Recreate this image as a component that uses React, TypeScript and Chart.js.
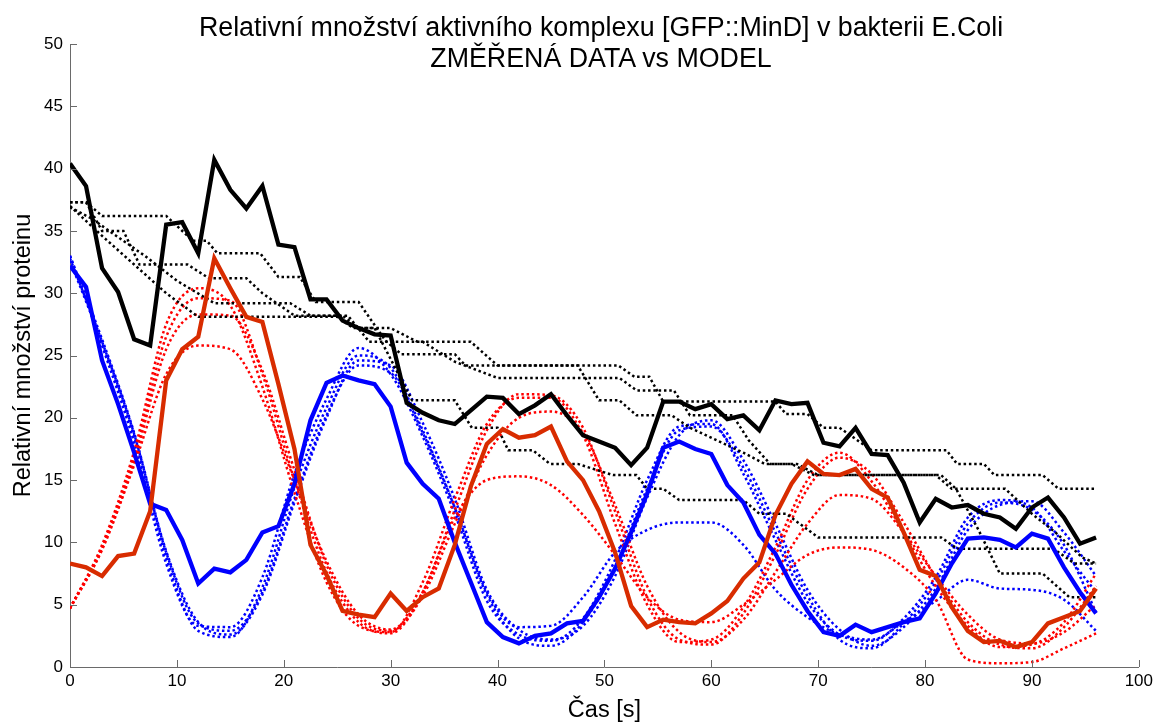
import React, { useEffect, useRef } from "react";
import { Chart, registerables } from "chart.js";

Chart.register(...registerables);

// ---------- measured data (sampled every 1.5 s) ----------
const timeMeasured = [
  0, 1.5, 3, 4.5, 6, 7.5, 9, 10.5, 12, 13.5, 15, 16.5, 18, 19.5, 21, 22.5, 24, 25.5, 27, 28.5,
  30, 31.5, 33, 34.5, 36, 37.5, 39, 40.5, 42, 43.5, 45, 46.5, 48, 49.5, 51, 52.5, 54, 55.5, 57, 58.5,
  60, 61.5, 63, 64.5, 66, 67.5, 69, 70.5, 72, 73.5, 75, 76.5, 78, 79.5, 81, 82.5, 84, 85.5, 87, 88.5,
  90, 91.5, 93, 94.5, 96,
];

const blackMeasured = [
  40.4, 38.6, 32.0, 30.1, 26.3, 25.8, 35.5, 35.7, 33.2, 40.7, 38.3, 36.8, 38.6, 33.9, 33.7, 29.5, 29.5, 27.8, 27.2, 26.7,
  26.6, 21.2, 20.4, 19.8, 19.5, 20.6, 21.7, 21.6, 20.3, 21.0, 21.9, 20.2, 18.6, 18.1, 17.6, 16.2, 17.6, 21.3, 21.3, 20.7,
  21.1, 19.9, 20.2, 19.0, 21.4, 21.1, 21.2, 18.0, 17.7, 19.2, 17.1, 17.0, 14.8, 11.6, 13.5, 12.8, 13.0, 12.3, 12.0, 11.1,
  12.8, 13.6, 12.0, 9.9, 10.4,
];

const blueMeasured = [
  32.2, 30.5, 24.6, 21.1, 17.2, 13.1, 12.6, 10.2, 6.7, 7.9, 7.6, 8.6, 10.8, 11.3, 14.7, 19.8, 22.8, 23.4, 23.0, 22.7,
  20.9, 16.4, 14.7, 13.5, 10.0, 6.8, 3.6, 2.4, 1.9, 2.5, 2.7, 3.5, 3.7, 5.6, 7.9, 10.8, 13.9, 17.6, 18.1, 17.5,
  17.1, 14.6, 13.2, 10.6, 9.1, 6.6, 4.5, 2.8, 2.5, 3.4, 2.8, 3.2, 3.6, 3.9, 5.9, 8.3, 10.3, 10.4, 10.2, 9.6,
  10.7, 10.3, 8.0, 6.0, 4.3,
];

const redMeasured = [
  8.3, 8.0, 7.3, 8.9, 9.1, 12.5, 23.0, 25.5, 26.5, 32.8, 30.4, 28.1, 27.7, 22.7, 17.5, 9.8, 7.4, 4.5, 4.2, 4.0,
  5.9, 4.5, 5.6, 6.3, 9.8, 14.5, 17.9, 19.1, 18.4, 18.6, 19.3, 16.5, 15.0, 12.5, 9.2, 4.9, 3.2, 3.8, 3.6, 3.5,
  4.3, 5.3, 7.1, 8.4, 12.2, 14.7, 16.5, 15.5, 15.4, 15.9, 14.3, 13.6, 10.8, 7.8, 7.3, 4.8, 2.9, 2.0, 2.1, 1.6,
  2.0, 3.5, 4.0, 4.5, 6.3,
];

// ---------- model curves (sampled every 3 s) ----------
const timeModel = [
  0, 3, 6, 9, 12, 15, 18, 21, 24, 27, 30, 33, 36, 39, 42, 45, 48, 51, 54, 57, 60, 63, 66, 69, 72, 75, 78, 81, 84, 87, 90, 93, 96,
];

const blueModel1 = [33.0, 25.8, 18.0, 8.3, 3.3, 3.2, 7.2, 15.5, 21.5, 25.6, 23.5, 18.5, 12.3, 5.3, 2.6, 2.1, 3.9, 8.6, 15.0, 19.3, 19.5, 15.5, 10.2, 5.2, 2.6, 2.1, 3.9, 7.2, 12.0, 13.4, 12.8, 9.3, 6.0];
const blueModel2 = [33.0, 26.3, 18.8, 9.3, 3.6, 2.6, 5.8, 13.2, 20.0, 24.6, 24.2, 19.6, 13.5, 6.2, 3.0, 2.2, 3.3, 7.3, 13.6, 18.6, 19.8, 16.6, 11.5, 6.2, 3.0, 1.7, 3.2, 6.3, 11.0, 13.0, 13.3, 10.8, 7.3];
const blueModel3 = [32.6, 26.0, 18.5, 8.8, 2.9, 2.4, 6.4, 14.4, 20.8, 25.0, 24.0, 19.0, 12.8, 5.8, 2.3, 1.7, 3.6, 8.0, 14.3, 19.0, 19.3, 16.0, 10.8, 5.7, 2.2, 1.5, 3.5, 6.8, 11.5, 13.2, 12.6, 9.8, 4.4];
const blueModel4 = [32.8, 26.1, 18.7, 9.2, 3.5, 2.9, 6.0, 13.5, 20.2, 24.2, 23.6, 18.8, 12.8, 6.0, 3.2, 3.3, 5.6, 9.2, 11.0, 11.6, 11.6, 9.8, 6.2, 4.0, 2.6, 2.2, 3.6, 5.3, 7.0, 6.3, 6.2, 5.4, 2.9];

const redModel1 = [4.7, 9.8, 17.3, 27.5, 30.4, 29.0, 22.5, 14.0, 6.8, 3.3, 2.8, 6.8, 13.5, 19.5, 21.6, 21.6, 18.6, 11.5, 5.0, 2.0, 2.2, 4.8, 9.6, 15.0, 17.2, 14.9, 10.8, 6.5, 3.3, 1.6, 1.8, 3.6, 7.5];
const redModel2 = [4.7, 9.6, 16.8, 26.5, 29.6, 29.4, 23.5, 15.0, 7.6, 3.6, 2.7, 6.0, 12.6, 19.0, 21.9, 21.8, 19.2, 12.5, 5.6, 2.2, 1.8, 4.3, 9.0, 14.3, 16.8, 15.5, 11.6, 7.2, 3.6, 1.8, 1.5, 3.2, 6.5];
const redModel3 = [4.7, 9.5, 16.5, 25.5, 28.3, 28.2, 23.8, 15.8, 8.2, 3.9, 2.9, 5.7, 11.5, 17.0, 20.0, 20.5, 18.8, 13.0, 6.5, 2.8, 2.0, 3.8, 7.6, 11.5, 13.8, 13.5, 10.8, 7.3, 4.2, 2.2, 1.9, 2.8, 5.0];
const redModel4 = [4.7, 9.4, 16.2, 23.5, 25.8, 25.5, 21.5, 15.0, 8.5, 4.2, 3.0, 6.0, 12.0, 15.0, 15.3, 14.6, 12.2, 9.0, 5.6, 3.8, 3.6, 5.0, 7.0, 9.0, 9.6, 9.4, 8.0, 5.4, 0.6, 0.3, 0.4, 1.5, 2.7];

// black model curves: [time, value] break points of the staircases
const blackModelA = [[0, 37.3], [1.5, 37.3], [3, 36.2], [9, 36.2], [11.5, 34.2], [12.8, 34.2], [13.8, 33.2], [17.8, 33.2], [19.5, 31.3], [21.5, 31.3], [23, 29.3], [27, 29.3], [29.5, 26.2], [31, 25.1], [36, 25.1], [37, 24.2], [51.3, 24.2], [52.8, 23.3], [54.2, 23.3], [55.5, 21.3], [66, 21.3], [67, 20.3], [69, 20.3], [70.5, 19.2], [72, 19.2], [75, 17.4], [82, 17.4], [83, 16.3], [85.5, 16.3], [86.5, 15.4], [91, 15.4], [92.5, 14.3], [96, 14.3]];
const blackModelB = [[0, 37.3], [1.5, 37.3], [3, 35.0], [5, 35.0], [6.5, 32.3], [11, 32.3], [13, 31.2], [16.5, 31.2], [18, 30.0], [21, 28.2], [25.5, 28.2], [27, 27.2], [30, 27.2], [32.5, 26.1], [37.5, 26.1], [40, 24.2], [47.5, 24.2], [49.5, 21.4], [51.4, 21.4], [53, 20.2], [56.3, 20.2], [58, 19.2], [60.5, 18.2], [63, 17.2], [65, 16.3], [67.5, 16.3], [69.6, 15.4], [81, 15.4], [82.5, 14.3], [87.5, 14.3], [90, 12.3], [92.2, 10.8], [94.7, 8.8], [96, 8.3]];
const blackModelC = [[0, 37.0], [3, 34.6], [6, 32.3], [9, 30.0], [12, 28.1], [25, 28.1], [26.5, 27.2], [28.5, 27.2], [32, 21.4], [36, 21.4], [37.6, 19.2], [40, 19.2], [41, 17.4], [43.3, 17.4], [44.9, 16.3], [47.5, 16.3], [50.8, 15.4], [53, 15.4], [54, 14.3], [55.5, 14.3], [57, 13.4], [63, 13.4], [64.5, 12.3], [67, 12.3], [70, 10.4], [81.5, 10.4], [83, 9.5], [92, 9.5], [94, 8.3], [96, 8.3]];
const blackModelD = [[0, 36.9], [2, 36.0], [4.5, 34.5], [7, 33.0], [10, 31.0], [13.5, 29.2], [20.6, 29.2], [22.5, 28.2], [26, 28.2], [28, 26.1], [33, 26.1], [36, 24.5], [40, 23.2], [51.4, 23.2], [53, 22.2], [56.5, 22.2], [58, 20.2], [62, 20.2], [63.5, 18.2], [65.5, 16.3], [68, 16.3], [70, 15.4], [81.5, 15.4], [82.9, 14.3], [85, 11.0], [87, 7.5], [91, 7.5], [93.5, 5.6], [96, 5.6]];

const titleLines = ["Relativní množství aktivního komplexu [GFP::MinD] v bakterii E.Coli", "ZMĚŘENÁ DATA vs MODEL"];
const xAxisTitle = "Čas [s]";
const yAxisTitle = "Relativní množství proteinu";

const FONT = "'Liberation Sans', Arial, Helvetica, sans-serif";
const AXIS_GREY = "#6a6a6a";

const zip = (ts: number[], vs: number[]) => ts.map((t, i) => ({ x: t, y: vs[i] }));
const pairs = (p: number[][]) => p.map(([x, y]) => ({ x, y }));

const innerTicks = {
  id: "innerTicks",
  afterDraw(chart: any) {
    const { ctx, chartArea, scales } = chart;
    const xs = scales.x;
    const ys = scales.y;
    ctx.save();
    ctx.strokeStyle = AXIS_GREY;
    ctx.lineWidth = 1;
    xs.ticks.forEach((t: any) => {
      if (t.value === 0) return;
      const px = Math.round(xs.getPixelForValue(t.value)) + 0.5;
      ctx.beginPath();
      ctx.moveTo(px, chartArea.bottom);
      ctx.lineTo(px, chartArea.bottom - 7);
      ctx.stroke();
    });
    ys.ticks.forEach((t: any) => {
      if (t.value === 0) return;
      const py = Math.round(ys.getPixelForValue(t.value)) + 0.5;
      ctx.beginPath();
      ctx.moveTo(chartArea.left, py);
      ctx.lineTo(chartArea.left + 7, py);
      ctx.stroke();
    });
    ctx.restore();
  },
};

export default function App() {
  const canvasRef = useRef<HTMLCanvasElement | null>(null);

  useEffect(() => {
    const canvas = canvasRef.current;
    if (!canvas) return;

    const thick = (label: string, data: any[], color: string) => ({
      label,
      data,
      borderColor: color,
      backgroundColor: color,
      borderWidth: 4.3,
      pointRadius: 0,
      tension: 0,
      fill: false,
      borderJoinStyle: "miter" as const,
    });
    const dotted = (label: string, data: any[], color: string, smooth: boolean) => ({
      label,
      data,
      borderColor: color,
      backgroundColor: color,
      borderWidth: 2.5,
      borderDash: [2.5, 2.8],
      pointRadius: 0,
      tension: 0,
      cubicInterpolationMode: smooth ? ("monotone" as const) : ("default" as const),
      fill: false,
    });

    const chart = new Chart(canvas, {
      type: "line",
      data: {
        datasets: [
          thick("Změřená data – celkem", zip(timeMeasured, blackMeasured), "#000000"),
          thick("Změřená data – červená", zip(timeMeasured, redMeasured), "#d82c00"),
          thick("Změřená data – modrá", zip(timeMeasured, blueMeasured), "#0000ff"),
          dotted("Model A", pairs(blackModelA), "#000000", false),
          dotted("Model B", pairs(blackModelB), "#000000", false),
          dotted("Model C", pairs(blackModelC), "#000000", false),
          dotted("Model D", pairs(blackModelD), "#000000", false),
          dotted("Model červená 1", zip(timeModel, redModel1), "#ff0000", true),
          dotted("Model červená 2", zip(timeModel, redModel2), "#ff0000", true),
          dotted("Model červená 3", zip(timeModel, redModel3), "#ff0000", true),
          dotted("Model červená 4", zip(timeModel, redModel4), "#ff0000", true),
          dotted("Model modrá 1", zip(timeModel, blueModel1), "#0000ff", true),
          dotted("Model modrá 2", zip(timeModel, blueModel2), "#0000ff", true),
          dotted("Model modrá 3", zip(timeModel, blueModel3), "#0000ff", true),
          dotted("Model modrá 4", zip(timeModel, blueModel4), "#0000ff", true),
        ],
      },
      options: {
        responsive: false,
        animation: false,
        devicePixelRatio: 1,
        layout: { padding: { top: 44, right: 17, left: 0, bottom: 0 } },
        plugins: {
          legend: { display: false },
          tooltip: { enabled: false },
          title: { display: false },
        },
        scales: {
          x: {
            type: "linear",
            min: 0,
            max: 100,
            ticks: {
              stepSize: 10,
              color: "#000",
              font: { family: FONT, size: 17 },
              padding: 4,
              maxRotation: 0,
            },
            grid: { display: false, drawTicks: false },
            border: { display: true, color: AXIS_GREY, width: 1 },
            title: {
              display: true,
              text: xAxisTitle,
              color: "#000",
              font: { family: FONT, size: 23.5, lineHeight: 1.0 },
              padding: { top: 0, bottom: 0 },
            },
            afterFit: (s: any) => {
              s.height = 55;
            },
          },
          y: {
            type: "linear",
            min: 0,
            max: 50,
            ticks: {
              stepSize: 5,
              color: "#000",
              font: { family: FONT, size: 17 },
              padding: 7,
            },
            grid: { display: false, drawTicks: false },
            border: { display: true, color: AXIS_GREY, width: 1 },
            title: {
              display: true,
              text: yAxisTitle,
              color: "#000",
              font: { family: FONT, size: 23.5 },
              padding: { top: 9, bottom: 0 },
            },
            afterFit: (s: any) => {
              s.width = 70;
            },
          },
        },
      },
      plugins: [innerTicks],
    } as any);

    return () => {
      chart.destroy();
    };
  }, []);

  return (
    <div
      style={{
        position: "fixed",
        left: 0,
        top: 0,
        width: 1157,
        height: 722,
        background: "#fff",
        overflow: "hidden",
      }}
    >
      <canvas ref={canvasRef} width={1157} height={722} style={{ display: "block" }} />
      <div
        style={{
          position: "absolute",
          left: 601,
          top: 12,
          transform: "translateX(-50%)",
          whiteSpace: "nowrap",
          textAlign: "center",
          fontFamily: FONT,
          fontSize: 26.8,
          lineHeight: "31px",
          color: "#000",
          pointerEvents: "none",
        }}
      >
        {titleLines.map((l) => (
          <div key={l}>{l}</div>
        ))}
      </div>
    </div>
  );
}
